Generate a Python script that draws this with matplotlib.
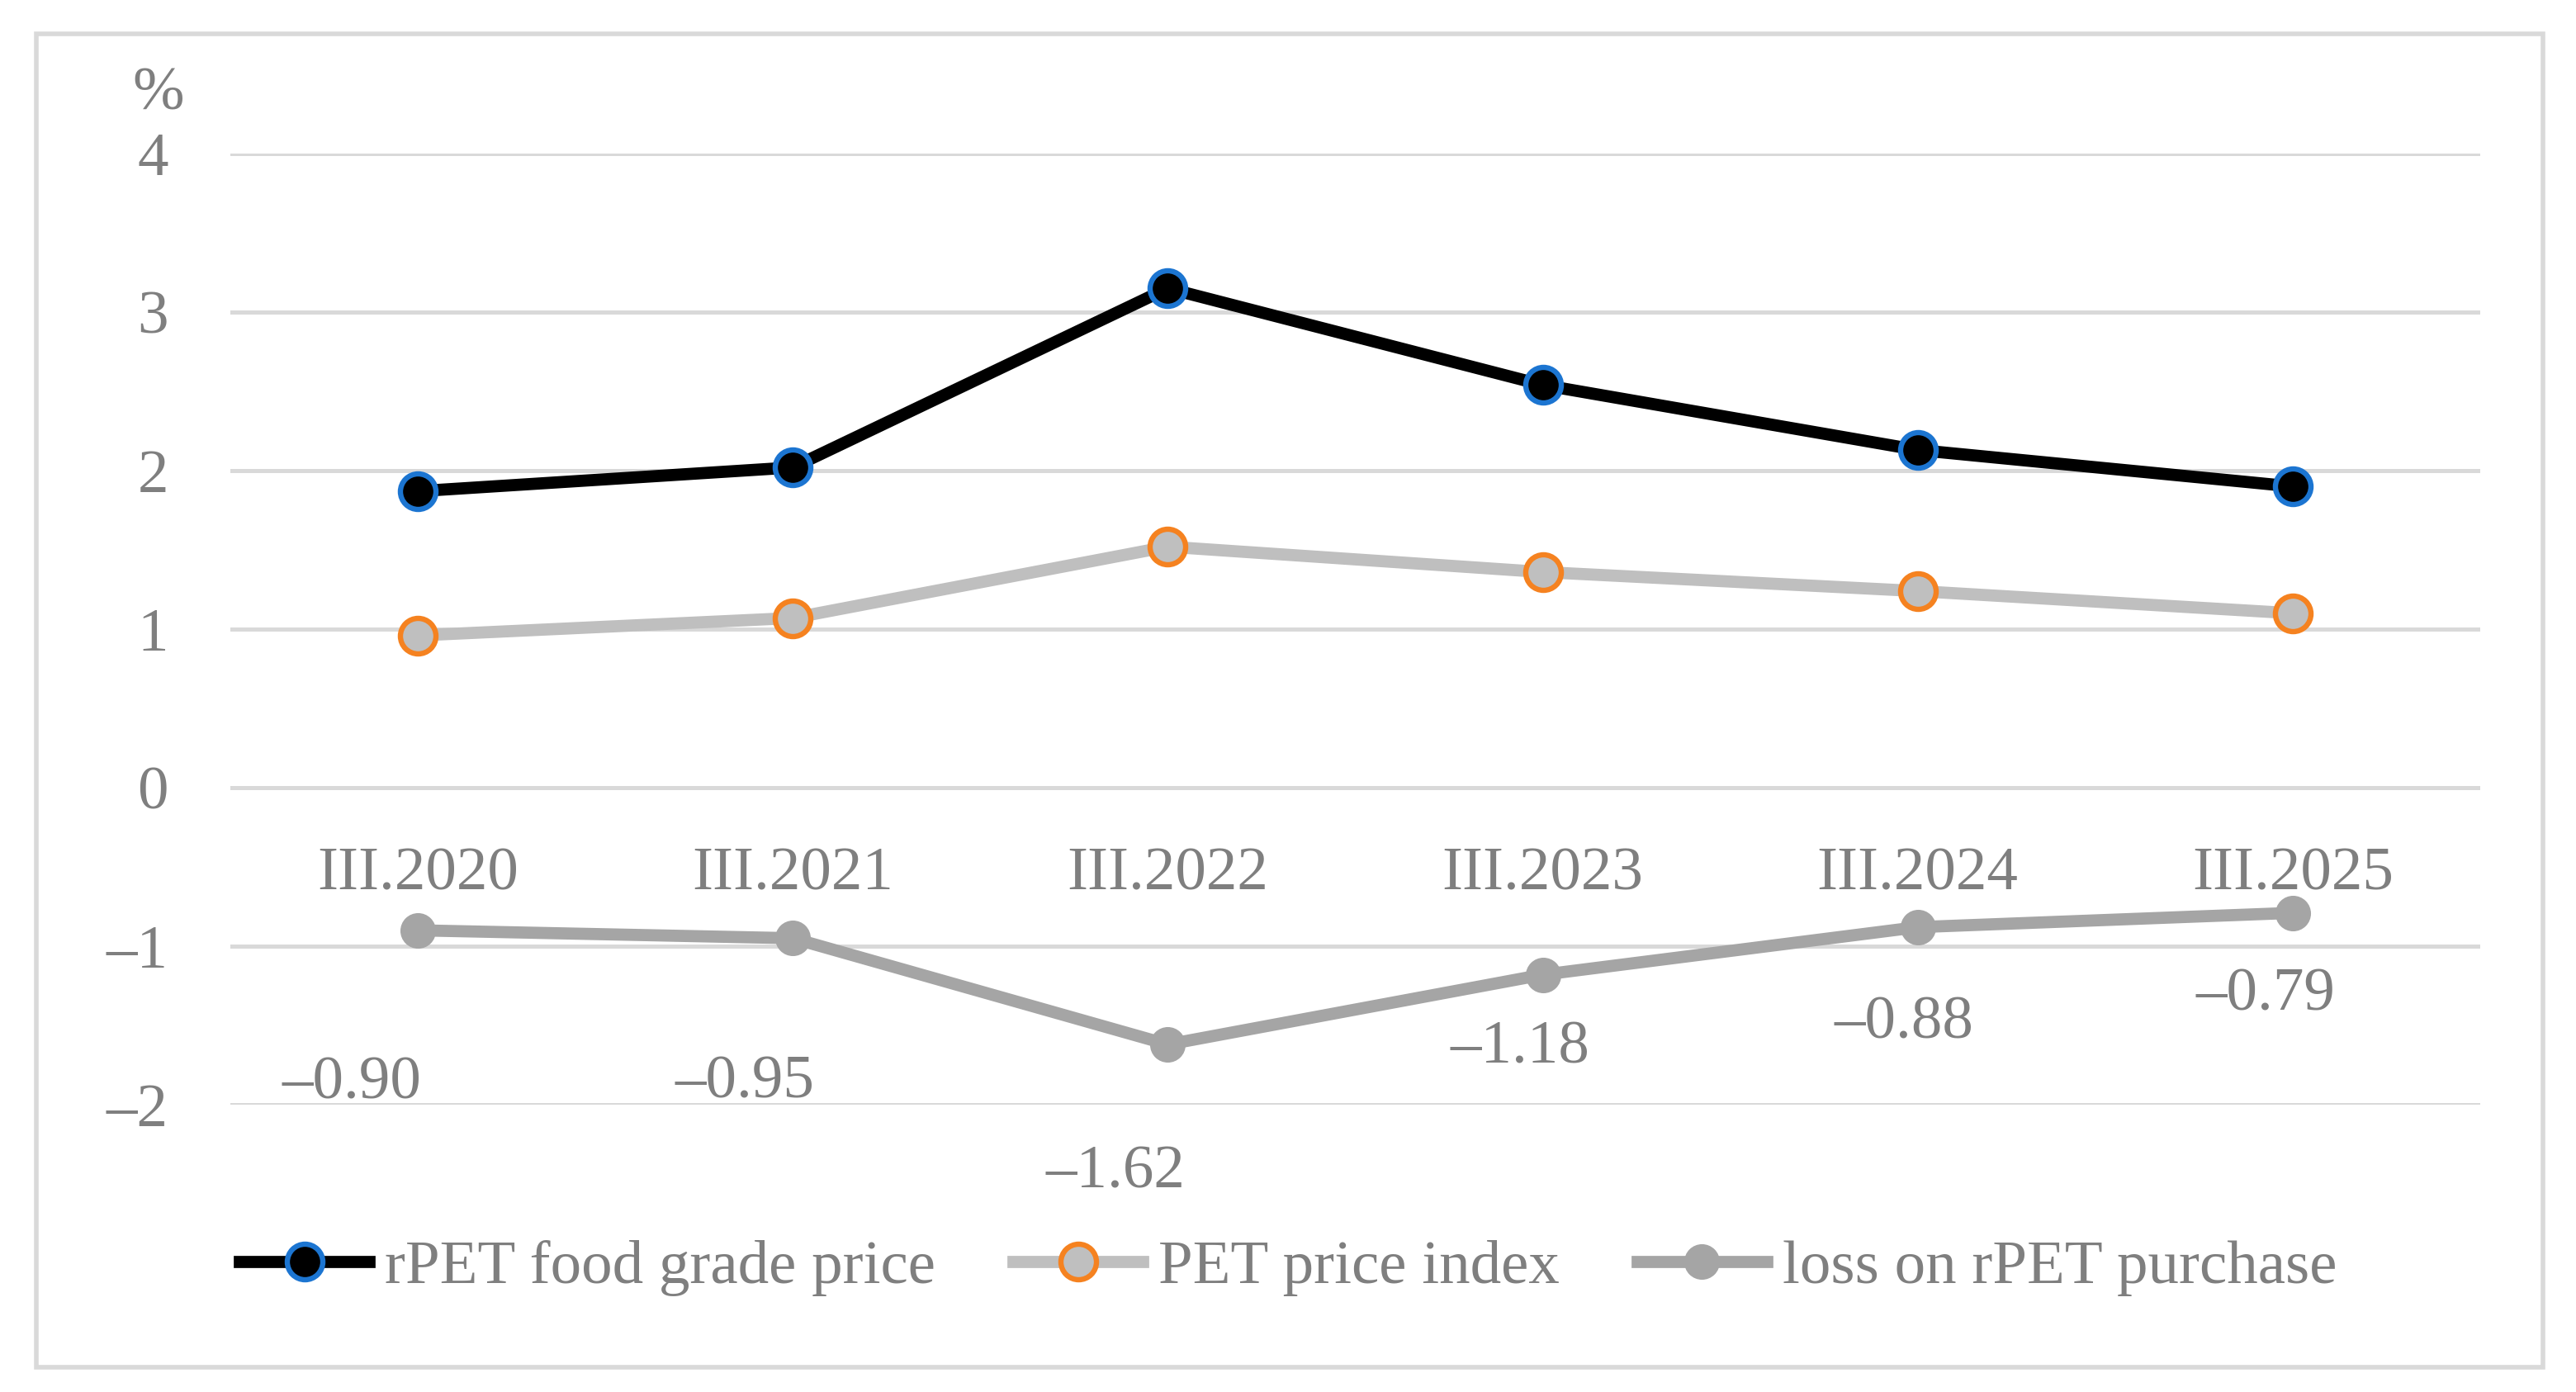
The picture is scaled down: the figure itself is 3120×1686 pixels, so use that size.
import matplotlib
matplotlib.use("Agg")
import matplotlib.pyplot as plt
from matplotlib.patches import Rectangle

# data
periods = ["III.2020", "III.2021", "III.2022", "III.2023", "III.2024", "III.2025"]
rpet_food_grade = [1.87, 2.02, 3.15, 2.54, 2.13, 1.90]
pet_price_index = [0.96, 1.07, 1.52, 1.36, 1.24, 1.10]
loss_on_rpet = [-0.90, -0.95, -1.62, -1.18, -0.88, -0.79]
y_ticks = [-2, -1, 0, 1, 2, 3, 4]

# label placement (points) for the loss labels, as in the original
loss_label_offsets = [(-29, -67), (-21, -63), (-23, -56), (-10, -32), (-6, -42), (-12, -36)]

TXT = "#7F7F7F"
GRID = "#D9D9D9"
FS = 27

plt.rcParams["font.family"] = ["Liberation Serif", "DejaVu Serif"]

fig = plt.figure(figsize=(15.6, 8.43), dpi=200)
ax = fig.add_axes([0.0894, 0.2064, 0.8734, 0.6833])

x = list(range(len(periods)))
ax.plot(x, rpet_food_grade, "-o", color="black", lw=5.3, ms=15.5,
        mfc="black", mec="#1C75D1", mew=2.3, label="rPET food grade price", zorder=4)
ax.plot(x, pet_price_index, "-o", color="#BFBFBF", lw=5.3, ms=15.5,
        mfc="#BFBFBF", mec="#F58220", mew=2.3, label="PET price index", zorder=3)
ax.plot(x, loss_on_rpet, "-o", color="#A5A5A5", lw=5.3, ms=15.5,
        mfc="#A5A5A5", mec="#A5A5A5", mew=0, label="loss on rPET purchase", zorder=3)

for xi, v, (dx, dy) in zip(x, loss_on_rpet, loss_label_offsets):
    ax.annotate(f"{v:.2f}".replace("-", "\u2013"), (xi, v), xytext=(dx, dy),
                textcoords="offset points", ha="center", va="center",
                color=TXT, fontsize=FS)

ax.set_xlim(-0.5, len(periods) - 0.5)
ax.set_ylim(-2, 4)
ax.set_yticks(y_ticks)
ax.set_yticklabels([str(t).replace("-", "\u2013") for t in y_ticks])
ax.set_xticks(x)
ax.set_xticklabels(periods)
ax.spines["bottom"].set_position(("data", 0))
for s in ax.spines.values():
    s.set_visible(False)
ax.tick_params(axis="y", length=0, pad=27, labelsize=FS, labelcolor=TXT)
ax.tick_params(axis="x", length=0, pad=26, labelsize=FS, labelcolor=TXT)
ax.grid(axis="y", color=GRID, lw=1.8)
ax.set_axisbelow(True)

ax.set_ylabel("%", rotation=0, fontsize=FS, color=TXT, ha="center", va="center")
ax.yaxis.set_label_coords(-0.032, 1.062)

fig.legend(loc="center", bbox_to_anchor=(0.5, 0.089), ncol=3, frameon=False,
           fontsize=FS, labelcolor=TXT, handlelength=2.1, handletextpad=0.25,
           columnspacing=1.25)

fig.patches.append(Rectangle((0.0141, 0.0178), 0.973, 0.958, transform=fig.transFigure,
                             fill=False, edgecolor=GRID, lw=2))

fig.savefig("out.png", dpi=200, facecolor="white")
